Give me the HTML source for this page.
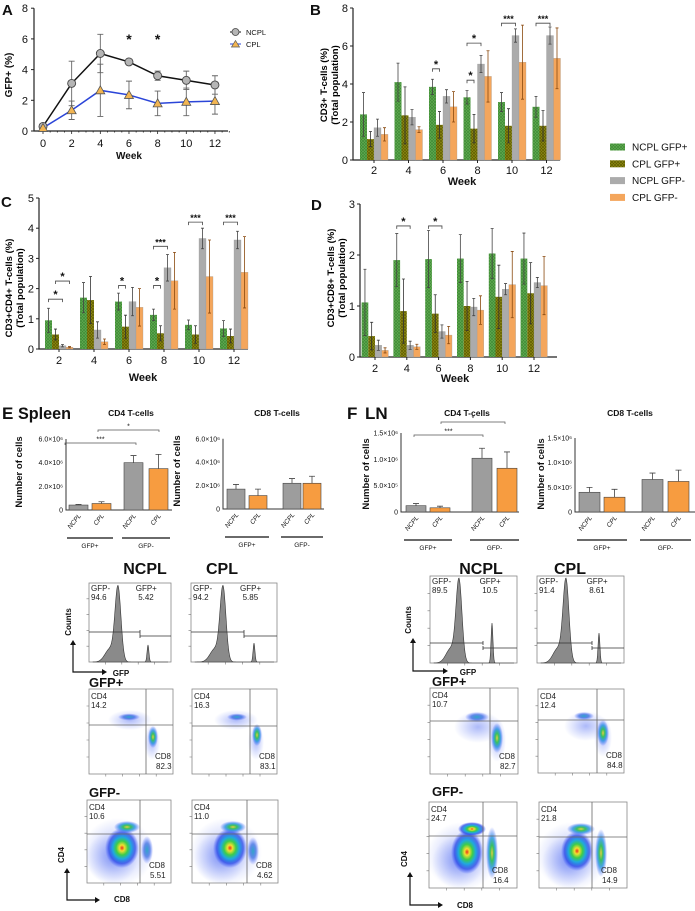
<!DOCTYPE html>
<html><head><meta charset="utf-8">
<style>
html,body{margin:0;padding:0;background:#fff;}
svg{display:block;font-family:"Liberation Sans",sans-serif;}
</style></head>
<body>
<svg id="fig" width="695" height="911" viewBox="0 0 695 911" xmlns="http://www.w3.org/2000/svg">
<defs>
<pattern id="hatchG" width="3" height="3" patternUnits="userSpaceOnUse">
<rect width="3" height="3" fill="#62ad52"/><path d="M0 0L3 3M3 0L0 3" stroke="#3f8a36" stroke-width="0.7"/>
</pattern>
<pattern id="hatchO" width="3" height="3" patternUnits="userSpaceOnUse">
<rect width="3" height="3" fill="#8f8c14"/><path d="M0 0L3 3M3 0L0 3" stroke="#5f5c00" stroke-width="0.7"/>
</pattern>
<radialGradient id="hot"><stop offset="0" stop-color="#e8301a"/><stop offset="0.15" stop-color="#f2e030"/><stop offset="0.35" stop-color="#3ccc4a"/><stop offset="0.55" stop-color="#20a8e0"/><stop offset="0.78" stop-color="#2846e6" stop-opacity="0.75"/><stop offset="1" stop-color="#3a55ff" stop-opacity="0"/></radialGradient>
<radialGradient id="warm"><stop offset="0" stop-color="#e0d040"/><stop offset="0.3" stop-color="#38c060"/><stop offset="0.6" stop-color="#2090e0" stop-opacity="0.8"/><stop offset="1" stop-color="#3a55ff" stop-opacity="0"/></radialGradient>
<radialGradient id="cool"><stop offset="0" stop-color="#30a8c8"/><stop offset="0.5" stop-color="#2a60e0" stop-opacity="0.7"/><stop offset="1" stop-color="#3a55ff" stop-opacity="0"/></radialGradient>
<radialGradient id="faint"><stop offset="0" stop-color="#3050f0" stop-opacity="0.4"/><stop offset="0.6" stop-color="#3050f0" stop-opacity="0.15"/><stop offset="1" stop-color="#3050f0" stop-opacity="0"/></radialGradient>
</defs>
</svg>
<script>
// ---------- Panel A data ----------
const aWeeks=[0,2,4,6,8,10,12];
const aNcpl=[0.3,3.1,5.05,4.5,3.6,3.3,3.0];
const aNcplErr=[0.1,1.45,1.25,0.12,0.3,0.6,0.6];
const aCpl=[0.2,1.35,2.65,2.35,1.8,1.9,1.95];
const aCplErr=[0.1,0.6,1.7,0.9,0.8,0.9,0.85];
const aTicks=[0,2,4,6,8];
const aStars=[6,8];
// ---------- Panels B/C/D data ----------
const weekCats=["2","4","6","8","10","12"];
const seriesNames=["NCPL GFP+","CPL GFP+","NCPL GFP-","CPL GFP-"];
const bNcplPos=[2.4,4.1,3.85,3.3,3.05,2.8];
const bNcplPosErr=[1.15,1.0,0.4,0.35,0.5,0.55];
const bCplPos=[1.1,2.35,1.85,1.65,1.8,1.8];
const bCplPosErr=[0.4,1.5,0.7,0.75,0.9,0.8];
const bNcplNeg=[1.7,2.25,3.35,5.05,6.55,6.55];
const bNcplNegErr=[0.45,0.4,0.35,0.45,0.35,0.45];
const bCplNeg=[1.35,1.6,2.8,4.4,5.15,5.35];
const bCplNegErr=[0.35,0.15,0.8,1.35,1.95,1.6];
const bTicks=[0,2,4,6,8];
const bSig=[[2,0,1,4.8,"*"],[3,0,1,4.2,"*"],[3,0,2,6.15,"*"],[4,0,2,7.2,"***"],[5,0,2,7.2,"***"]];

const cNcplPos=[0.95,1.7,1.57,1.13,0.8,0.68];
const cNcplPosErr=[0.4,0.5,0.28,0.19,0.16,0.26];
const cCplPos=[0.48,1.62,0.74,0.52,0.48,0.43];
const cCplPosErr=[0.18,0.78,0.38,0.25,0.29,0.23];
const cNcplNeg=[0.11,0.63,1.57,2.69,3.66,3.61];
const cNcplNegErr=[0.04,0.27,0.47,0.44,0.34,0.29];
const cCplNeg=[0.06,0.24,1.38,2.26,2.4,2.54];
const cCplNegErr=[0.02,0.09,0.62,0.94,1.21,1.18];
const cTicks=[0,1,2,3,4,5];
const cSig=[[0,0,2,1.65,"*"],[0,1,3,2.25,"*"],[2,0,1,2.1,"*"],[3,0,1,2.1,"*"],[3,0,2,3.4,"***"],[4,0,2,4.2,"***"],[5,0,2,4.2,"***"]];

const dNcplPos=[1.07,1.9,1.92,1.93,2.03,1.93];
const dNcplPosErr=[0.65,0.52,0.56,0.47,0.49,0.5];
const dCplPos=[0.41,0.9,0.85,1.0,1.18,1.25];
const dCplPosErr=[0.27,0.63,0.37,0.48,0.62,0.6];
const dNcplNeg=[0.23,0.23,0.5,0.98,1.33,1.46];
const dNcplNegErr=[0.1,0.08,0.13,0.17,0.11,0.1];
const dCplNeg=[0.13,0.2,0.43,0.92,1.42,1.4];
const dCplNegErr=[0.05,0.05,0.17,0.28,0.65,0.57];
const dTicks=[0,1,2,3];
const dSig=[[1,0,2,2.57,"*"],[2,0,2,2.57,"*"]];

// ---------- Panels E/F data ----------
const efCats=["NCPL","CPL","NCPL","CPL"];
const eCd4=[0.42,0.55,4.0,3.5];
const eCd4Err=[0.05,0.15,0.6,1.2];
const eCd8=[1.7,1.15,2.2,2.2];
const eCd8Err=[0.4,0.55,0.4,0.6];
const fCd4=[0.12,0.08,1.02,0.83];
const fCd4Err=[0.04,0.03,0.19,0.31];
const fCd8=[0.4,0.3,0.66,0.62];
const fCd8Err=[0.1,0.16,0.13,0.23];
const eTicks=[0,2,4,6];
const eTickLabels=["0","2.0×10⁶","4.0×10⁶","6.0×10⁶"];
const fTicks=[0,0.5,1.0,1.5];
const fTickLabels=["0","5.0×10⁵","1.0×10⁶","1.5×10⁶"];

const NS="http://www.w3.org/2000/svg";
const svg=document.getElementById('fig');
function mk(tag,attrs,parent){const e=document.createElementNS(NS,tag);for(const k in attrs)e.setAttribute(k,attrs[k]);(parent||svg).appendChild(e);return e;}
function txt(s,x,y,size,opts,parent){const o=Object.assign({x:x,y:y,'font-size':size,fill:'#111'},opts||{});const t=mk('text',o,parent);t.textContent=s;return t;}

// ---------- panel letters ----------
const letters=[["A",2,15],["B",310,15],["C",1,207],["D",311,210]];
letters.forEach(l=>{const t=txt(l[0],l[1],l[2],15,{'font-weight':'bold'});

});

// ---------- Panel A ----------
(function(){
const g=mk('g',{});


const xA=w=>43+w*14.33, yA=v=>131-v*15.35;
const ax=mk('path',{d:`M34 ${yA(8)}V131H228`,stroke:'#222','stroke-width':1.2,fill:'none'},g);


for(let w=0;w<=13;w+=0.5){const tk=mk('line',{x1:xA(w),x2:xA(w),y1:131,y2:w%2==0?134:132.5,stroke:'#222','stroke-width':0.8},g);

}
aTicks.forEach(v=>{const t=txt(String(v),28,yA(v)+4,11,{'text-anchor':'end'},g);


const tk=mk('line',{x1:31,x2:34,y1:yA(v),y2:yA(v),stroke:'#222'},g);

});
aWeeks.forEach(w=>{const t=txt(String(w),xA(w),147,11,{'text-anchor':'middle'},g);

});
const xt=txt("Week",129,159,10,{'text-anchor':'middle','font-weight':'bold'},g);


const yt=txt("GFP+ (%)",0,0,10,{'text-anchor':'middle','font-weight':'bold',transform:'translate(12,75) rotate(-90)'},g);


function errs(vals,er,name){vals.forEach((v,i)=>{const x=xA(aWeeks[i]);
const e=mk('path',{d:`M${x} ${yA(v-er[i])}V${yA(v+er[i])}M${x-3} ${yA(v-er[i])}h6M${x-3} ${yA(v+er[i])}h6`,stroke:'#666','stroke-width':0.9,fill:'none'},g);

});}
errs(aNcpl,aNcplErr,'ncpl');errs(aCpl,aCplErr,'cpl');
const l1=mk('polyline',{points:aNcpl.map((v,i)=>xA(aWeeks[i])+','+yA(v)).join(' '),fill:'none',stroke:'#111','stroke-width':1.5},g);


const l2=mk('polyline',{points:aCpl.map((v,i)=>xA(aWeeks[i])+','+yA(v)).join(' '),fill:'none',stroke:'#2b45d8','stroke-width':1.5},g);


aNcpl.forEach((v,i)=>{const c=mk('circle',{cx:xA(aWeeks[i]),cy:yA(v),r:4,fill:'#b5b5b5',stroke:'#444','stroke-width':0.9},g);

});
aCpl.forEach((v,i)=>{const x=xA(aWeeks[i]),y=yA(v);const p=mk('path',{d:`M${x} ${y-4.5}L${x+4.5} ${y+3.5}L${x-4.5} ${y+3.5}Z`,fill:'#f2b552',stroke:'#555','stroke-width':0.8},g);

});
aStars.forEach(w=>{const s=txt("*",xA(w),44,14,{'text-anchor':'middle','font-weight':'bold'},g);

});
const lg=mk('g',{},g);


const lc=mk('path',{d:'M230 32h11',stroke:'#111'},lg);


const lcc=mk('circle',{cx:235.5,cy:32,r:3.5,fill:'#b5b5b5',stroke:'#444','stroke-width':0.8},lg);


const lt1=txt("NCPL",246,35,7.5,{},lg);


const lb=mk('path',{d:'M230 44h11',stroke:'#2b45d8'},lg);


const lbt=mk('path',{d:'M235.5 40.5L239.5 47H231.5Z',fill:'#f2b552',stroke:'#555','stroke-width':0.7},lg);


const lt2=txt("CPL",246,47,7.5,{},lg);


})();

// ---------- grouped bar chart ----------
const fills=['url(#hatchG)','url(#hatchO)','#ababab','#f4a65c'];
const errCol=['#444','#333','#444','#8a4a10'];
function grouped(cfg){
const g=mk('g',{});


const y=v=>cfg.y0-v*cfg.ppu, cx=i=>cfg.c0+i*cfg.step, bw=cfg.bw;
const top=y(cfg.ticks[cfg.ticks.length-1]);
const ax=mk('path',{d:`M${cfg.ax} ${top}V${cfg.y0}H${cfg.axEnd}`,stroke:'#222','stroke-width':1.2,fill:'none'},g);


cfg.ticks.forEach(v=>{const t=txt(String(v),cfg.ax-5,y(v)+4,11,{'text-anchor':'end'},g);


const tk=mk('line',{x1:cfg.ax-3,x2:cfg.ax,y1:y(v),y2:y(v),stroke:'#222'},g);

});
cfg.series.forEach((vals,k)=>{vals.forEach((v,i)=>{const x=cx(i)-2*bw+k*bw;
const r=mk('rect',{x:x,y:y(v),width:bw,height:cfg.y0-y(v),fill:fills[k],stroke:k<2?'none':'#999','stroke-width':0.3},g);


const e=cfg.errs[k][i],xm=x+bw/2;
const eb=mk('path',{d:`M${xm} ${y(Math.max(0,v-e))}V${y(v+e)}M${xm-1.5} ${y(v+e)}h3M${xm-1.5} ${y(Math.max(0,v-e))}h3`,stroke:errCol[k],'stroke-width':0.8,fill:'none'},g);

});});
weekCats.forEach((c,i)=>{const t=txt(c,cx(i),cfg.labY,11,{'text-anchor':'middle'},g);


const tk=mk('line',{x1:cx(i),x2:cx(i),y1:cfg.y0,y2:cfg.y0+3,stroke:'#222'},g);

});
const xt=txt("Week",cfg.titleX,cfg.titleY,11,{'text-anchor':'middle','font-weight':'bold'},g);


const yt=mk('text',{'font-size':9.5,'font-weight':'bold','text-anchor':'middle',transform:`translate(${cfg.ytX},${cfg.ytY}) rotate(-90)`},g);


const s1=mk('tspan',{x:0,dy:0},yt);s1.textContent=cfg.ytitle;
const s2=mk('tspan',{x:0,dy:11},yt);s2.textContent="(Total population)";
cfg.sig.forEach(s=>{const x1=cx(s[0])-2*bw+s[1]*bw+bw/2,x2=cx(s[0])-2*bw+s[2]*bw+bw/2,yy=y(s[3]);
const b=mk('path',{d:`M${x1} ${yy+3}V${yy}H${x2}V${yy+3}`,stroke:'#444','stroke-width':0.8,fill:'none'},g);


const t=txt(s[4],(x1+x2)/2,yy-1,s[4].length>1?9:11,{'text-anchor':'middle','font-weight':'bold'},g);

});
}
grouped({name:'panel-b-bar-chart',y0:160,ppu:19,c0:374,step:34.5,bw:7,ax:353,axEnd:560,ticks:bTicks,labY:174,titleX:462,titleY:185,ytX:327,ytY:85,ytitle:"CD3+ T-cells (%)",
series:[bNcplPos,bCplPos,bNcplNeg,bCplNeg],errs:[bNcplPosErr,bCplPosErr,bNcplNegErr,bCplNegErr],sig:bSig});
grouped({name:'panel-c-bar-chart',y0:349,ppu:30.2,c0:59,step:35,bw:7,ax:39,axEnd:248,ticks:cTicks,labY:364,titleX:143,titleY:381,ytX:12,ytY:288,ytitle:"CD3+CD4+ T-cells (%)",
series:[cNcplPos,cCplPos,cNcplNeg,cCplNeg],errs:[cNcplPosErr,cCplPosErr,cNcplNegErr,cCplNegErr],sig:cSig});
grouped({name:'panel-d-bar-chart',y0:357,ppu:51,c0:375,step:31.8,bw:6.7,ax:360,axEnd:557,ticks:dTicks,labY:372,titleX:455,titleY:382,ytX:334,ytY:278,ytitle:"CD3+CD8+ T-cells (%)",
series:[dNcplPos,dCplPos,dNcplNeg,dCplNeg],errs:[dNcplPosErr,dCplPosErr,dNcplNegErr,dCplNegErr],sig:dSig});

(function(){const g=mk('g',{});


seriesNames.forEach((n,k)=>{const yy=147+k*16.8;
const r=mk('rect',{x:610,y:yy-3.5,width:15,height:7,fill:fills[k]},g);


const t=txt(n,632,yy+3.5,10,{},g);

});})();

// ---------- E / F bar charts ----------
function small(cfg){
const g=mk('g',{});


const y=v=>cfg.y0-v*cfg.ppu;
const tt=txt(cfg.title,cfg.titleX,416,8.5,{'text-anchor':'middle','font-weight':'bold'},g);


const ax=mk('path',{d:`M${cfg.ax} ${y(cfg.ticks[cfg.ticks.length-1])}V${cfg.y0}H${cfg.axEnd}`,stroke:'#333','stroke-width':1,fill:'none'},g);


cfg.ticks.forEach((v,i)=>{const t=txt(cfg.tickLabels[i],cfg.ax-3,y(v)+2.5,7,{'text-anchor':'end'},g);

});
const yt=txt("Number of cells",0,0,9.5,{'text-anchor':'middle','font-weight':'bold',transform:`translate(${cfg.ytX},${cfg.y0-38}) rotate(-90)`},g);


cfg.vals.forEach((v,i)=>{const x=cfg.bx[i];
const r=mk('rect',{x:x,y:y(v),width:cfg.bw,height:cfg.y0-y(v),fill:i%2?'#f79c40':'#9d9d9d',stroke:'#444','stroke-width':0.6},g);


const xm=x+cfg.bw/2;
const e=mk('path',{d:`M${xm} ${y(v)}V${y(v+cfg.errs[i])}M${xm-3} ${y(v+cfg.errs[i])}h6`,stroke:'#444','stroke-width':0.8,fill:'none'},g);


const t=txt(efCats[i],0,0,6.5,{'text-anchor':'end','font-style':'italic',transform:`translate(${xm+3},${cfg.y0+6}) rotate(-50)`},g);

});
[[0,1,"GFP+"],[2,3,"GFP-"]].forEach(p=>{const x1=cfg.bx[p[0]]-2,x2=cfg.bx[p[1]]+cfg.bw+2;
const l=mk('line',{x1:x1,x2:x2,y1:cfg.y0+28,y2:cfg.y0+28,stroke:'#111','stroke-width':1.2},g);


const t=txt(p[2],(x1+x2)/2,cfg.y0+38,6.5,{'text-anchor':'middle'},g);

});
(cfg.sig||[]).forEach(s=>{const b=mk('path',{d:`M${s[0]} ${s[2]+2}V${s[2]}H${s[1]}V${s[2]+2}`,stroke:'#555','stroke-width':0.7,fill:'none'},g);


const t=txt(s[3],(s[0]+s[1])/2,s[2]-1.5,7,{'text-anchor':'middle'},g);

});
}
small({name:'spleen-cd4-chart',title:"CD4 T-cells",titleX:131,ax:66,axEnd:172,y0:510,ppu:11.83,ticks:eTicks,tickLabels:eTickLabels,ytX:22,bx:[69,92,124,149],bw:19,vals:eCd4,errs:eCd4Err,sig:[[65,136,443,"***"],[98,159,430,"*"]]});
small({name:'spleen-cd8-chart',title:"CD8 T-cells",titleX:277,ax:223,axEnd:324,y0:509,ppu:11.7,ticks:eTicks,tickLabels:eTickLabels,ytX:180,bx:[227,249,283,303],bw:18,vals:eCd8,errs:eCd8Err});
small({name:'ln-cd4-chart',title:"CD4 T-cells",titleX:467,ax:401,axEnd:519,y0:512,ppu:52.7,ticks:fTicks,tickLabels:fTickLabels,ytX:369,bx:[406,430,472,497],bw:20,vals:fCd4,errs:fCd4Err,sig:[[414,483,435,"***"],[441,505,422,"*"]]});
small({name:'ln-cd8-chart',title:"CD8 T-cells",titleX:630,ax:575,axEnd:695,y0:512,ppu:49.3,ticks:fTicks,tickLabels:fTickLabels,ytX:544,bx:[579,604,642,668],bw:21,vals:fCd8,errs:fCd8Err});

const ef=[["E",2,419,17],["Spleen",18,419,17],["F",347,419,17],["LN",365,419,17]];
ef.forEach(l=>{const t=txt(l[0],l[1],l[2],l[3],{'font-weight':'bold'});


if(l[0]==="Spleen"){t.setAttribute('textLength','53');t.setAttribute('lengthAdjust','spacingAndGlyphs');}});

// ---------- Flow cytometry ----------
const flowTitles=[["NCPL",145,574],["CPL",222,574],["NCPL",481,574],["CPL",570,574]];
flowTitles.forEach(f=>{const t=txt(f[0],f[1],f[2],16,{'text-anchor':'middle','font-weight':'bold'});

});

function frameTicks(g,x0,y0,x1,y1){let d='';for(let i=1;i<5;i++){const x=x0+(x1-x0)*i/5,y=y1-(y1-y0)*i/5;d+=`M${x} ${y1}v2.5M${x0} ${y}h-2.5`;}
const p=mk('path',{d:d,stroke:'#777','stroke-width':0.6},g);

}

const histos=[
[89,583,171,662,118,148,645,140,632,636,"94.6","5.42"],
[191,583,277,662,223,254,643,244,632,636,"94.2","5.85"],
[430,576,517,663,459,492,623,483,643,648,"89.5","10.5"],
[537,576,624,663,566,599,633,592,643,648,"91.4","8.61"]];
histos.forEach(h=>{const g=mk('g',{});


const b=mk('rect',{x:h[0],y:h[1],width:h[2]-h[0],height:h[3]-h[1],fill:'#fff',stroke:'#888','stroke-width':0.8},g);


frameTicks(g,h[0],h[1],h[2],h[3]);
let d=`M${h[0]+4} ${h[3]}`;const H=h[3]-h[1]-6;
for(let x=h[0]+4;x<=h[2]-3;x+=0.5){const a=Math.exp(-Math.pow((x-h[4])/4.2,2))*H+Math.exp(-Math.pow((x-h[4]+8)/7,2))*H*0.18;
const s=Math.exp(-Math.pow((x-h[5])/1.3,2))*(h[3]-h[6]);d+=`L${x} ${h[3]-Math.max(a,s)}`;}
d+=`L${h[2]-3} ${h[3]}Z`;
const p=mk('path',{d:d,fill:'#8a8a8a',stroke:'#333','stroke-width':0.6},g);


const gt=mk('path',{d:`M${h[0]} ${h[8]}H${h[7]}M${h[7]} ${h[8]-2}V${h[8]+2}M${h[7]} ${h[9]}H${h[2]}M${h[7]} ${h[9]-2}V${h[9]+2}`,stroke:'#333','stroke-width':0.8,fill:'none'},g);


const w=h[2]-h[0];
[["GFP-",h[0]+2,h[1]+8],[h[10],h[0]+2,h[1]+17],["GFP+",h[0]+w*0.57,h[1]+8],[h[11],h[0]+w*0.6,h[1]+17]].forEach(l=>{
const t=txt(l[0],l[1],l[2],8,{fill:'#222'},g);

});});

const dots=[
[89,689,173,774,146,725,"14.2","82.3",[[130,720,22,10,'faint'],[129,717,11,3.5,'cool'],[152,742,8,18,'faint'],[153,737,5,11,'warm']]],
[192,689,277,774,250,726,"16.3","83.1",[[236,720,22,10,'faint'],[237,717,10,3.5,'cool'],[256,742,8,18,'faint'],[257,735,5,11,'warm']]],
[430,688,518,774,490,721,"10.7","82.7",[[478,727,24,16,'faint'],[477,717,12,5,'cool'],[497,740,9,22,'faint'],[497,738,6,15,'warm']]],
[538,689,624,773,597,720,"12.4","84.8",[[586,726,22,15,'faint'],[584,716,10,4,'cool'],[603,737,9,20,'faint'],[603,733,6,13,'warm']]],
[87,800,171,883,140,834,"10.6","5.51",[[118,852,36,34,'faint'],[112,858,26,26,'faint'],[122,848,17,20,'hot'],[127,827,13,6,'warm'],[147,850,6,14,'cool']]],
[192,800,278,883,247,834,"11.0","4.62",[[226,852,36,34,'faint'],[220,858,26,26,'faint'],[230,848,17,20,'hot'],[233,827,13,6,'warm'],[253,851,6,14,'cool']]],
[429,802,517,888,483,836,"24.7","16.4",[[462,856,36,34,'faint'],[458,862,26,26,'faint'],[467,852,16,22,'hot'],[472,829,14,7,'hot'],[492,853,6,26,'warm']]],
[539,802,627,888,592,837,"21.8","14.9",[[572,856,36,34,'faint'],[568,862,26,26,'faint'],[577,851,16,20,'hot'],[581,829,14,6,'warm'],[601,853,6,24,'warm']]]];
dots.forEach(d=>{const g=mk('g',{});


const clip='clip'+d[0]+'_'+d[1];
const cp=mk('clipPath',{id:clip},g);mk('rect',{x:d[0],y:d[1],width:d[2]-d[0],height:d[3]-d[1]},cp);
const b=mk('rect',{x:d[0],y:d[1],width:d[2]-d[0],height:d[3]-d[1],fill:'#fff',stroke:'#888','stroke-width':0.8},g);


frameTicks(g,d[0],d[1],d[2],d[3]);
const cg=mk('g',{'clip-path':`url(#${clip})`},g);
d[8].forEach(c=>{const e=mk('ellipse',{cx:c[0],cy:c[1],rx:c[2],ry:c[3],fill:`url(#${c[4]})`},cg);

});
const gt=mk('path',{d:`M${d[4]} ${d[1]}V${d[3]}M${d[0]} ${d[5]}H${d[2]}`,stroke:'#666','stroke-width':0.8},g);


[["CD4",d[0]+2,d[1]+10],[d[6],d[0]+2,d[1]+19],["CD8",d[4]+9,d[3]-15],[d[7],d[4]+10,d[3]-5]].forEach(l=>{
const t=txt(l[0],l[1],l[2],8,{fill:'#222'},g);

});});

const rowLabels=[["GFP+",89,687],["GFP-",89,797],["GFP+",432,686],["GFP-",432,796]];
rowLabels.forEach(r=>{const t=txt(r[0],r[1],r[2],13,{'font-weight':'bold'});

});

const arrows=[[73,672,640,107,"Counts","GFP",[71,622],[121,676]],[413,671,638,448,"Counts","GFP",[411,620],[468,675]],
[67,900,868,100,"CD4","CD8",[64,855],[122,902]],[410,905,872,443,"CD4","CD8",[407,859],[465,908]]];
arrows.forEach(a=>{const g=mk('g',{});


const p=mk('path',{d:`M${a[0]} ${a[2]+4}V${a[1]}H${a[3]-4}`,stroke:'#111','stroke-width':1.2,fill:'none'},g);


const h=mk('path',{d:`M${a[0]-3} ${a[2]+5}L${a[0]} ${a[2]}L${a[0]+3} ${a[2]+5}ZM${a[3]-5} ${a[1]-3}L${a[3]} ${a[1]}L${a[3]-5} ${a[1]+3}Z`,fill:'#111'},g);


const t1=txt(a[4],0,0,8,{'font-weight':'bold','text-anchor':'middle',transform:`translate(${a[6][0]},${a[6][1]}) rotate(-90)`},g);


const t2=txt(a[5],a[7][0],a[7][1],8,{'font-weight':'bold','text-anchor':'middle'},g);

});
</script>
</body></html>
